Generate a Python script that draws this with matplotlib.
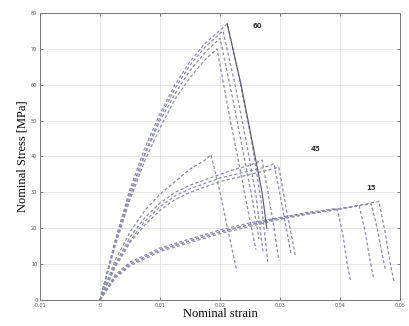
import matplotlib
matplotlib.use('Agg')
import matplotlib.pyplot as plt

# ---- data (strain, stress [MPa]) ----
# group "60"
s60_1 = [0, 0.0025, 0.005, 0.0075, 0.01, 0.0125, 0.015, 0.0175, 0.0195, 0.0215, 0.0235, 0.025, 0.026]
f60_1 = [0, 15, 28, 39, 48, 56, 62, 67, 70, 52, 35, 22, 14]
s60_2 = [0, 0.0025, 0.005, 0.0075, 0.01, 0.0125, 0.015, 0.0175, 0.0200, 0.022, 0.024, 0.0255, 0.0265]
f60_2 = [0, 15.5, 29, 40.5, 50, 57.5, 64, 69, 73, 57, 40, 27, 17]
s60_3 = [0, 0.0025, 0.005, 0.0075, 0.01, 0.0125, 0.015, 0.0175, 0.0205, 0.0225, 0.0245, 0.026, 0.0272]
f60_3 = [0, 16, 30, 41, 51, 59, 65.5, 70.5, 75, 60, 43, 29, 13]
s60_4 = [0, 0.0025, 0.005, 0.0075, 0.01, 0.0125, 0.015, 0.0175, 0.0212, 0.0232, 0.0252, 0.0268, 0.028]
f60_4 = [0, 16.5, 31, 42.5, 52, 60, 66.5, 71.5, 77, 62, 45, 28, 10]
s60_solid = [0.0212, 0.0235, 0.0255, 0.027, 0.0278]
f60_solid = [77, 60, 43, 30, 20]

# group "45"
s45_1 = [0, 0.0025, 0.005, 0.0075, 0.01, 0.0125, 0.015, 0.0175, 0.0185, 0.0200, 0.0215, 0.0228]
f45_1 = [0, 11, 19, 25, 29.5, 33, 36.5, 39, 40.5, 30, 18, 8]
s45_2 = [0, 0.0025, 0.005, 0.0075, 0.01, 0.0125, 0.015, 0.0175, 0.02, 0.0225, 0.025, 0.027, 0.028, 0.029, 0.0298]
f45_2 = [0, 10, 17.5, 23, 27, 30, 32, 33.5, 35, 36.5, 37.5, 39, 30, 20, 11]
s45_3 = [0, 0.0025, 0.005, 0.0075, 0.01, 0.0125, 0.015, 0.0175, 0.02, 0.0225, 0.025, 0.0275, 0.029, 0.0305, 0.0318]
f45_3 = [0, 9.5, 16.5, 22, 26, 29, 31, 32.5, 34, 35, 36, 37, 38, 25, 13]
s45_4 = [0, 0.0025, 0.005, 0.0075, 0.01, 0.0125, 0.015, 0.0175, 0.02, 0.0225, 0.025, 0.0275, 0.0298, 0.0312, 0.0326]
f45_4 = [0, 9, 16, 21, 25, 28, 30, 31.5, 33, 34, 35, 36, 37, 24, 12]

# group "15"
s15_1 = [0, 0.0025, 0.005, 0.0075, 0.01, 0.015, 0.02, 0.025, 0.03, 0.035, 0.0395, 0.0405, 0.0412, 0.0418]
f15_1 = [0, 7, 10.5, 12.5, 14.5, 17, 19.5, 21.5, 23, 24.5, 25.5, 18, 10, 5]
s15_2 = [0, 0.0025, 0.005, 0.0075, 0.01, 0.015, 0.02, 0.025, 0.03, 0.035, 0.04, 0.0432, 0.0442, 0.045, 0.0456]
f15_2 = [0, 6.5, 10, 12, 14, 16.5, 19, 21, 22.8, 24.2, 25.5, 26.3, 19, 11, 6]
s15_3 = [0, 0.0025, 0.005, 0.0075, 0.01, 0.015, 0.02, 0.025, 0.03, 0.035, 0.04, 0.0452, 0.0462, 0.047, 0.0476]
f15_3 = [0, 6.5, 10, 12, 14, 16.5, 19, 21, 22.8, 24.2, 25.5, 26.8, 20, 13, 8]
s15_4 = [0, 0.0025, 0.005, 0.0075, 0.01, 0.015, 0.02, 0.025, 0.03, 0.035, 0.04, 0.0465, 0.0475, 0.0483, 0.049]
f15_4 = [0, 6, 9.5, 11.5, 13.5, 16, 18.5, 20.5, 22.5, 24, 25.3, 27.5, 19, 11, 5]

dashed_curves = [
    (s60_1, f60_1), (s60_2, f60_2), (s60_3, f60_3), (s60_4, f60_4),
    (s45_1, f45_1), (s45_2, f45_2), (s45_3, f45_3), (s45_4, f45_4),
    (s15_1, f15_1), (s15_2, f15_2), (s15_3, f15_3), (s15_4, f15_4),
]

labels = ['60', '45', '15']
label_x = [0.0263, 0.0359, 0.0452]
label_y = [76.5, 42, 31.3]

xticks = [-0.01, 0, 0.01, 0.02, 0.03, 0.04, 0.05]
yticks = [0, 10, 20, 30, 40, 50, 60, 70, 80]

#__________________________________________________________
fig = plt.figure(figsize=(4.09, 3.26), dpi=100)
ax = fig.add_axes([0.098, 0.08, 0.880, 0.880])

for s, f in dashed_curves:
    ax.plot(s, f, linestyle=(0, (2.5, 1.8)), color='#8c8ca6', linewidth=0.9)
ax.plot(s60_solid, f60_solid, linestyle='-', color='#555566', linewidth=0.8)

for t, x, y in zip(labels, label_x, label_y):
    ax.text(x, y, t, fontsize=5, color='#333333', ha='center', va='center',
            family='DejaVu Sans', fontweight='bold')

ax.set_xlim(-0.01, 0.05)
ax.set_ylim(0, 80)
ax.set_xticks(xticks)
ax.set_yticks(yticks)
ax.set_xticklabels(['-0.01', '0', '0.01', '0.02', '0.03', '0.04', '0.05'])
ax.tick_params(direction='in', top=True, right=True, labelsize=3.5,
               length=2.5, width=0.5, colors='#555555', pad=2)
ax.grid(True, color='#e4e4e4', linewidth=0.6)
for sp in ax.spines.values():
    sp.set_color('#777777')
    sp.set_linewidth(0.7)

ax.set_xlabel('Nominal strain', fontsize=9, family='Liberation Serif', labelpad=0.5)
ax.set_ylabel('Nominal Stress [MPa]', fontsize=9, family='Liberation Serif', labelpad=2)

plt.savefig('out.png', dpi=100)
plt.close()
